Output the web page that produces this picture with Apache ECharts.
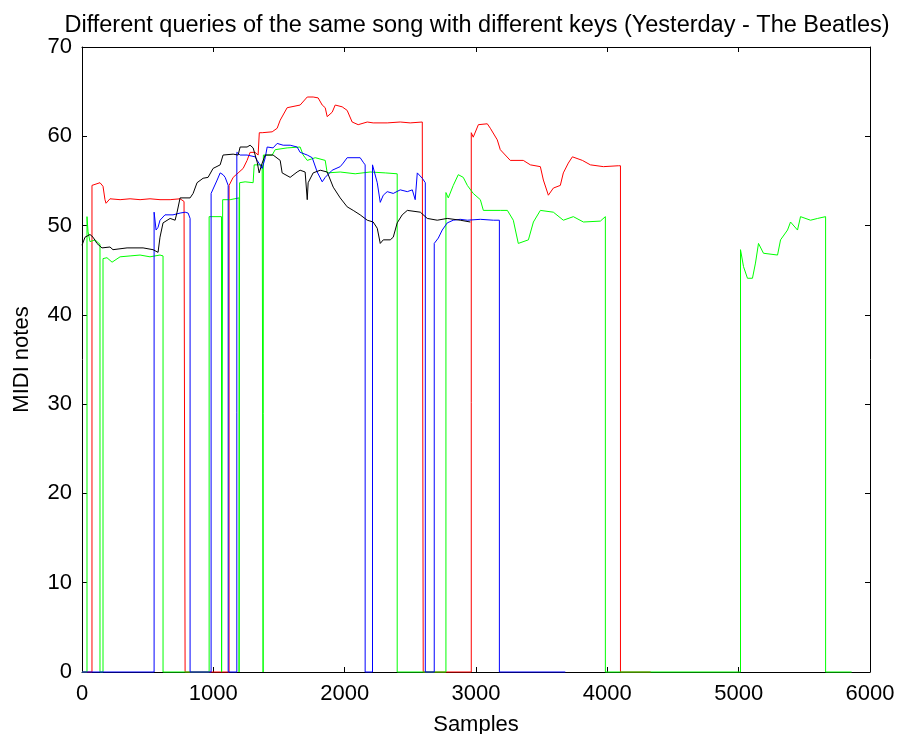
<!DOCTYPE html>
<html>
<head>
<meta charset="utf-8">
<script src="https://cdn.jsdelivr.net/npm/echarts@6/dist/echarts.min.js"></script>
<style>
  html, body { margin: 0; padding: 0; background: #fff; }
  #chart-container { width: 897px; height: 734px; }
</style>
</head>
<body>
<div id="chart-container"></div>
<script>
// pitch contours, [sample, midi note]
const redQuery = [
  [0, 0], [76, 0], [76, 54.5], [137, 54.8], [160, 54.4], [175, 52.9], [183, 52.5], [213, 53.0],
  [290, 52.9], [366, 53.0], [442, 52.9], [518, 53.0], [594, 52.9], [671, 52.9], [747, 53.0],
  [777, 52.7], [785, 52.7], [785, 0], [1120, 0], [1120, 54.5], [1151, 55.4], [1189, 55.9],
  [1227, 56.4], [1257, 57.3], [1280, 58.2], [1318, 58.2], [1341, 57.9], [1350, 60.4],
  [1372, 60.4], [1448, 60.5], [1486, 60.9], [1509, 61.8], [1562, 63.2], [1661, 63.5],
  [1715, 64.4], [1760, 64.4], [1798, 64.3], [1829, 63.5], [1852, 63.2], [1867, 62.2],
  [1905, 62.7], [1928, 63.5], [1981, 63.3], [2019, 62.9], [2057, 61.6], [2103, 61.3],
  [2172, 61.6], [2217, 61.5], [2324, 61.5], [2423, 61.6], [2499, 61.5], [2591, 61.6],
  [2598, 61.6], [2598, 0], [2964, 0], [2964, 60.4], [2979, 59.9], [3018, 61.3], [3086, 61.4],
  [3109, 60.9], [3162, 59.6], [3185, 58.5], [3261, 57.3], [3360, 57.3], [3414, 56.8],
  [3490, 56.6], [3513, 55.1], [3551, 53.4], [3589, 54.2], [3642, 54.5], [3665, 55.9],
  [3703, 57.0], [3734, 57.7], [3810, 57.3], [3871, 56.8], [3970, 56.6], [4084, 56.7],
  [4100, 56.7], [4100, 0], [4330, 0]
];

const greenQuery = [
  [0, 0], [38, 0], [38, 51.0], [46, 49.3], [61, 48.2], [99, 48.4], [137, 47.9], [137, 0],
  [160, 0], [160, 46.3], [190, 46.4], [229, 45.9], [290, 46.5], [366, 46.6], [442, 46.7],
  [518, 46.5], [594, 46.7], [617, 46.6], [617, 0], [968, 0], [968, 51.0], [1062, 51.0],
  [1063, 0], [1070, 0], [1071, 52.9], [1128, 52.9], [1196, 53.1], [1196, 0], [1200, 0],
  [1200, 54.8], [1242, 54.9], [1303, 54.8], [1311, 56.8], [1372, 56.8], [1379, 56.8],
  [1379, 0], [1381, 0], [1381, 57.9], [1448, 57.9], [1471, 58.5], [1562, 58.7], [1661, 58.8],
  [1684, 57.9], [1715, 57.3], [1776, 57.6], [1852, 57.3], [1867, 55.9], [1966, 56.0],
  [2080, 55.8], [2194, 56.0], [2309, 55.9], [2400, 55.8], [2400, 0], [2771, 0], [2771, 53.7],
  [2789, 53.1], [2827, 54.5], [2865, 55.7], [2903, 55.4], [2934, 54.5], [2979, 53.6],
  [3033, 52.9], [3056, 51.7], [3185, 51.7], [3239, 51.7], [3284, 50.6], [3322, 48.0],
  [3399, 48.4], [3437, 50.4], [3490, 51.7], [3589, 51.5], [3665, 50.6], [3741, 51.0],
  [3818, 50.4], [3947, 50.5], [3985, 51.0], [3985, 0], [5014, 0], [5014, 47.3], [5037, 45.4],
  [5067, 44.1], [5105, 44.1], [5128, 45.8], [5151, 48.0], [5189, 46.9], [5296, 46.7],
  [5319, 48.4], [5372, 49.5], [5395, 50.4], [5448, 49.5], [5471, 51.0], [5547, 50.6],
  [5601, 50.8], [5662, 51.0], [5662, 0], [5860, 0]
];

const blueQuery = [
  [0, 0], [549, 0], [549, 51.5], [564, 49.5], [579, 49.8], [594, 50.6], [632, 51.2],
  [693, 51.2], [747, 51.4], [785, 51.5], [808, 51.4], [823, 50.8], [823, 0], [983, 0],
  [983, 53.6], [1029, 55.1], [1052, 55.9], [1074, 55.7], [1090, 55.4], [1113, 54.5],
  [1113, 0], [1179, 0], [1179, 58.2], [1204, 57.9], [1257, 57.9], [1318, 57.7], [1334, 57.3],
  [1372, 56.4], [1395, 57.6], [1410, 58.8], [1455, 58.7], [1486, 59.2], [1532, 59.0],
  [1585, 59.0], [1638, 58.8], [1661, 58.2], [1715, 57.9], [1753, 57.6], [1791, 56.0],
  [1829, 54.9], [1852, 55.4], [1905, 56.2], [1966, 56.6], [1989, 57.0], [2019, 57.6],
  [2118, 57.6], [2141, 57.1], [2156, 56.8], [2156, 0], [2212, 0], [2212, 56.8], [2248, 54.8],
  [2271, 52.6], [2294, 53.4], [2324, 53.8], [2370, 53.6], [2423, 54.0], [2477, 53.8],
  [2515, 54.0], [2537, 52.9], [2553, 55.9], [2591, 55.3], [2614, 54.8], [2614, 0], [2682, 0],
  [2682, 48.0], [2713, 48.6], [2743, 49.5], [2781, 50.3], [2827, 50.6], [2880, 50.7],
  [2934, 50.6], [3033, 50.7], [3132, 50.6], [3178, 50.6], [3178, 0], [3680, 0]
];

const blackQuery = [
  [0, 47.8], [23, 48.7], [61, 49.0], [84, 48.7], [114, 48.0], [152, 47.5], [213, 47.6],
  [236, 47.3], [343, 47.5], [465, 47.5], [541, 47.3], [579, 47.0], [594, 48.7], [617, 50.3],
  [671, 50.8], [709, 50.6], [724, 51.5], [747, 53.1], [823, 53.1], [846, 53.6], [876, 54.8],
  [922, 55.3], [960, 55.4], [998, 56.4], [1052, 56.8], [1074, 57.9], [1151, 58.0],
  [1189, 57.9], [1204, 58.8], [1257, 58.8], [1280, 59.0], [1303, 58.7], [1334, 57.1],
  [1349, 55.9], [1372, 57.0], [1395, 57.9], [1455, 57.9], [1509, 57.3], [1524, 55.9],
  [1585, 55.4], [1638, 56.0], [1661, 56.2], [1699, 56.0], [1715, 52.9], [1722, 54.8],
  [1760, 55.9], [1814, 56.2], [1867, 56.0], [1913, 54.3], [1966, 53.1], [2019, 52.1],
  [2065, 51.7], [2118, 51.2], [2172, 50.6], [2217, 50.4], [2248, 49.7], [2271, 48.0],
  [2294, 48.4], [2347, 48.4], [2370, 48.7], [2400, 50.3], [2438, 51.2], [2477, 51.7],
  [2576, 51.5], [2629, 50.8], [2705, 50.6], [2781, 50.8], [2880, 50.6], [2957, 50.4]
];

const xTicks = [0, 1000, 2000, 3000, 4000, 5000, 6000];
const yTicks = [0, 10, 20, 30, 40, 50, 60, 70];

const myChart = echarts.init(document.getElementById('chart-container'));

const fontFamily = 'Liberation Sans, Arial, sans-serif';
const tickStyle = { show: true, inside: true, length: 5, lineStyle: { color: '#000', width: 1 } };
const axisLineStyle = { show: true, onZero: false, lineStyle: { color: '#000', width: 1 } };

function contour(name, color, data) {
  return {
    name: name,
    type: 'line',
    data: data,
    showSymbol: false,
    clip: false,
    animation: false,
    lineStyle: { color: color, width: 1 },
    itemStyle: { color: color }
  };
}

myChart.setOption({
  backgroundColor: '#fff',
  title: {
    text: 'Different queries of the same song with different keys (Yesterday - The Beatles)',
    left: 472,
    textAlign: 'center',
    top: 9,
    textStyle: { fontFamily: fontFamily, fontSize: 23.5, fontWeight: 'normal', color: '#000' }
  },
  grid: { left: 82, right: 27, top: 47, bottom: 62, outerBoundsMode: 'none', containLabel: false },
  xAxis: [
    {
      type: 'value',
      min: xTicks[0],
      max: xTicks[xTicks.length - 1],
      interval: 1000,
      name: 'Samples',
      nameLocation: 'middle',
      nameGap: 42,
      nameTextStyle: { fontFamily: fontFamily, fontSize: 22, color: '#000' },
      axisLine: axisLineStyle,
      axisTick: tickStyle,
      splitLine: { show: false },
      axisLabel: {
        margin: 11, fontFamily: fontFamily, fontSize: 22, color: '#000',
        formatter: v => String(v)
      }
    },
    {
      type: 'value',
      position: 'top',
      min: xTicks[0],
      max: xTicks[xTicks.length - 1],
      interval: 1000,
      axisLine: axisLineStyle,
      axisTick: tickStyle,
      splitLine: { show: false },
      axisLabel: { show: false }
    }
  ],
  yAxis: [
    {
      type: 'value',
      min: yTicks[0],
      max: yTicks[yTicks.length - 1],
      interval: 10,
      name: 'MIDI notes',
      nameLocation: 'middle',
      nameGap: 49,
      nameTextStyle: { fontFamily: fontFamily, fontSize: 22, color: '#000' },
      axisLine: axisLineStyle,
      axisTick: tickStyle,
      splitLine: { show: false },
      axisLabel: {
        margin: 10, fontFamily: fontFamily, fontSize: 22, color: '#000',
        formatter: v => String(v)
      }
    },
    {
      type: 'value',
      position: 'right',
      min: yTicks[0],
      max: yTicks[yTicks.length - 1],
      interval: 10,
      axisLine: axisLineStyle,
      axisTick: tickStyle,
      splitLine: { show: false },
      axisLabel: { show: false }
    }
  ],
  series: [
    contour('Query 1', '#ff0000', redQuery),
    contour('Query 2', '#00ff00', greenQuery),
    contour('Query 3', '#0000ff', blueQuery),
    contour('Query 4', '#000000', blackQuery)
  ]
});
</script>
</body>
</html>
